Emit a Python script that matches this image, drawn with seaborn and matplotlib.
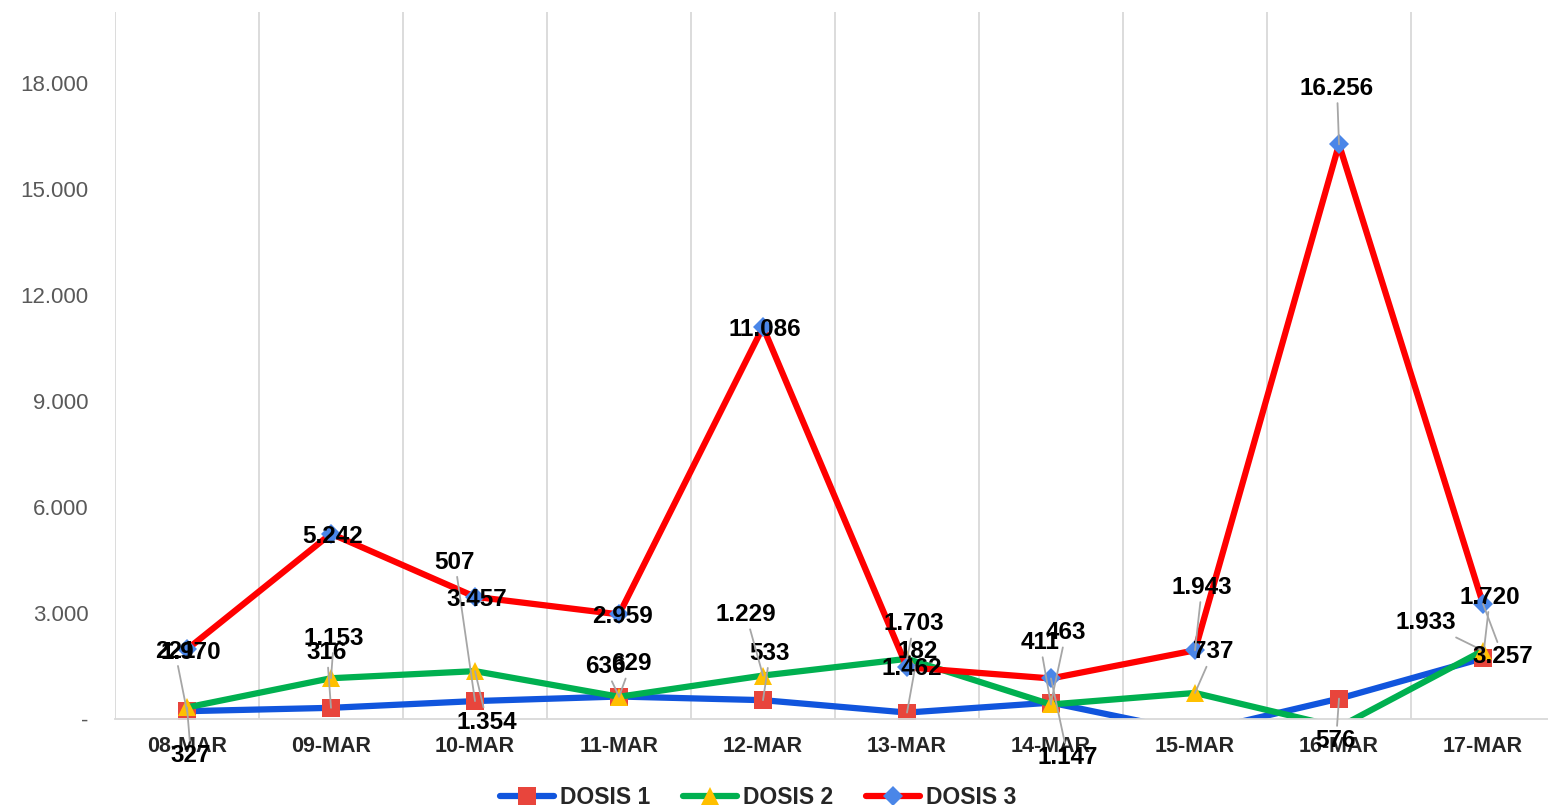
import numpy as np
import pandas as pd
import matplotlib
matplotlib.use("Agg")
import matplotlib.pyplot as plt
import seaborn as sns
from matplotlib.lines import Line2D

# ---------------- data ----------------
fechas = ["08-MAR", "09-MAR", "10-MAR", "11-MAR", "12-MAR",
          "13-MAR", "14-MAR", "15-MAR", "16-MAR", "17-MAR"]
dosis1 = [221, 316, 507, 636, 533, 182, 463, -380, 576, 1720]
dosis2 = [327, 1153, 1354, 629, 1229, 1703, 411, 737, -230, 1933]
dosis3 = [1970, 5242, 3457, 2959, 11086, 1462, 1147, 1943, 16256, 3257]
series = ["DOSIS 1", "DOSIS 2", "DOSIS 3"]
yticks = [0, 3000, 6000, 9000, 12000, 15000, 18000]

# ---------------- styles ----------------
line_colors = ["#1155DD", "#00B050", "#FF0000"]
marker_colors = ["#E8453C", "#FFC000", "#4A86E8"]
markers = ["s", "^", "D"]
marker_sizes = [12.5, 13.5, 10]

# label offsets in pixels (dx, dy up) relative to the point
label_offsets = [
    [(-12, 60), (-4, 55), (-20, 139), (-14, 30), (7, 47), (11, 61), (15, 70), (0, 0), (-3, -42), (7, 61)],
    [(4, -48), (3, 40), (12, -51), (12, 33), (-17, 61), (7, 35), (-11, 62), (18, 41), (0, 0), (-57, 28)],
    [(4, -3), (2, -3), (2, -3), (3, -2), (2, -2), (5, -1), (17, -79), (7, 63), (-2, 56), (20, -53)],
]

sns.set_style("white")
plt.rcParams["font.family"] = ["Liberation Sans", "DejaVu Sans"]

fig = plt.figure(figsize=(15.48, 8.05), dpi=100)
ax = fig.add_axes([115 / 1548, 86 / 805, 1440 / 1548, 707 / 805])

pos = np.arange(len(fechas))
all_vals = [dosis1, dosis2, dosis3]
df = pd.DataFrame({
    "pos": np.tile(pos, 3),
    "serie": np.repeat(series, len(fechas)),
    "valor": np.concatenate(all_vals),
})

for i, name in enumerate(series):
    sub = df[df["serie"] == name]
    sns.lineplot(data=sub, x="pos", y="valor", ax=ax, color=line_colors[i],
                 linewidth=4.5, marker=markers[i], markersize=marker_sizes[i],
                 markerfacecolor=marker_colors[i], markeredgecolor=marker_colors[i],
                 markeredgewidth=0, legend=False, zorder=2 + i * 0.1)

ax.set_xlim(-0.5, len(fechas) - 0.5)
ax.set_ylim(0, 20000)

# grid and spines
ax.set_xticks(pos)
ax.set_xticks(np.arange(-0.5, len(fechas), 1), minor=True)
ax.grid(False)
ax.grid(which="minor", axis="x", color="#d9d9d9", lw=1.3)
for s in ["top", "right", "left"]:
    ax.spines[s].set_visible(False)
ax.spines["bottom"].set_color("#d9d9d9")
ax.spines["bottom"].set_linewidth(1.3)
ax.tick_params(axis="both", which="both", length=0)

ax.set_yticks(yticks)
ax.set_yticklabels(["-" if v == 0 else f"{v:,}".replace(",", ".") for v in yticks],
                   fontsize=16, color="#595959")
ax.tick_params(axis="y", pad=19)
ax.set_xticklabels(fechas, fontsize=15.5, fontweight="bold", color="#262626")
ax.tick_params(axis="x", pad=12)
ax.set_xlabel("")
ax.set_ylabel("")

# data labels
for i, vals in enumerate(all_vals):
    for j, v in enumerate(vals):
        if v < 0:
            continue
        dx, dy = label_offsets[i][j]
        txt = f"{v:,}".replace(",", ".")
        far = (dx * dx + dy * dy) ** 0.5 > 25
        ax.annotate(txt, xy=(pos[j], v), xytext=(dx, dy), textcoords="offset pixels",
                    ha="center", va="center", fontsize=17.5, fontweight="bold",
                    color="black", zorder=5, annotation_clip=False,
                    arrowprops=dict(arrowstyle="-", color="#a6a6a6", lw=1.3,
                                    shrinkA=0, shrinkB=0) if far else None)

# legend
handles = [Line2D([0], [0], color=line_colors[i], lw=4.5, marker=markers[i],
                  markersize=marker_sizes[i], markerfacecolor=marker_colors[i],
                  markeredgewidth=0) for i in range(3)]
fig.legend(handles, series, loc="center", bbox_to_anchor=(0.4897, 0.009), ncol=3,
           frameon=False, handlelength=2.35, handletextpad=0.25, columnspacing=1.45,
           prop={"weight": "bold", "size": 16.5})

fig.savefig("out.png", dpi=100)
